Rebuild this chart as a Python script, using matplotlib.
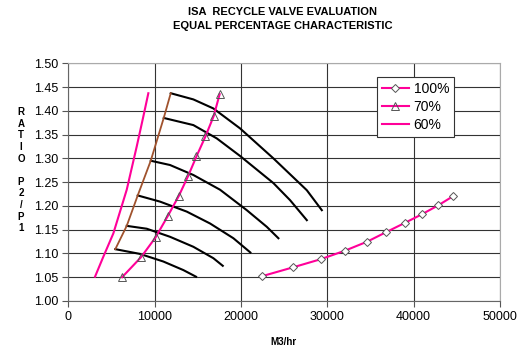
import matplotlib.pyplot as plt
import numpy as np

plt.rcParams['font.family'] = ['Liberation Sans', 'DejaVu Sans']

# valve curves (M3/hr, P2/P1)
flow_100 = [22410, 26070, 29260, 32065, 34640, 36830, 38950, 40910, 42830, 44520]
ratio_100 = [1.052, 1.071, 1.088, 1.106, 1.125, 1.145, 1.164, 1.182, 1.201, 1.220]

flow_70 = [6230, 8420, 10115, 11500, 12800, 13880, 14840, 15880, 16840, 17530]
ratio_70 = [1.050, 1.092, 1.134, 1.178, 1.221, 1.263, 1.304, 1.346, 1.389, 1.435]

flow_60 = [3094, 4055, 5214, 6767, 7925, 8690, 9270]
ratio_60 = [1.051, 1.093, 1.142, 1.234, 1.325, 1.388, 1.437]

# compressor speed lines (black)
speed_flows = [
    [5446, 8308, 11008, 13325, 14797],
    [6767, 9084, 11784, 14484, 16801, 17890],
    [8041, 10625, 13719, 16419, 19119, 21088],
    [9548, 11784, 14484, 17577, 20671, 22989, 24333],
    [11054, 14484, 17195, 19895, 23753, 25688, 27623],
    [11865, 14484, 16801, 19895, 23753, 27623, 29361],
]
speed_ratios = [
    [1.109, 1.099, 1.083, 1.065, 1.051],
    [1.158, 1.152, 1.135, 1.114, 1.090, 1.074],
    [1.222, 1.209, 1.188, 1.163, 1.132, 1.102],
    [1.295, 1.286, 1.265, 1.234, 1.191, 1.156, 1.132],
    [1.385, 1.370, 1.342, 1.305, 1.248, 1.212, 1.170],
    [1.437, 1.424, 1.405, 1.363, 1.300, 1.233, 1.191],
]

# surge line (brown) joins the start of each speed line
surge_flow = [f[0] for f in speed_flows]
surge_ratio = [r[0] for r in speed_ratios]

pink = '#FF0099'

fig = plt.figure(figsize=(5.27, 3.51), dpi=100)
ax = fig.add_axes([0.1296, 0.1425, 0.8192, 0.6772])

for fl, rt in zip(speed_flows, speed_ratios):
    ax.plot(fl, rt, color='black', lw=1.5, zorder=3)
ax.plot(surge_flow, surge_ratio, color='#A0522D', lw=1.3, zorder=3)

ax.plot(flow_100, ratio_100, color=pink, lw=1.5, marker='D', ms=4.5,
        mfc='white', mec='#555555', mew=0.7, label='100%', zorder=4)
ax.plot(flow_70, ratio_70, color=pink, lw=1.5, marker='^', ms=6,
        mfc='none', mec='#555555', mew=0.7, label='70%', zorder=4)
ax.plot(flow_60, ratio_60, color=pink, lw=1.5, label='60%', zorder=4)

ax.set_xlim(0, 50000)
ax.set_ylim(1.0, 1.5)
ax.set_xticks(np.arange(0, 50001, 10000))
ax.set_yticks(np.arange(1.0, 1.501, 0.05))
ax.set_yticklabels([f'{v:.2f}' for v in np.arange(1.0, 1.501, 0.05)])
ax.grid(True, color='#333333', lw=0.8)
ax.set_axisbelow(True)
ax.tick_params(labelsize=9, length=4, width=0.8, color='#555555', pad=3)

for s in ('top', 'right'):
    ax.spines[s].set_color('#aaaaaa')
for s in ('left', 'bottom'):
    ax.spines[s].set_color('#666666')

leg = ax.legend(loc='upper left', bbox_to_anchor=(0.716, 0.942), borderaxespad=0,
                fontsize=10, frameon=True, fancybox=False, handlelength=1.9,
                borderpad=0.35, labelspacing=0.3, handletextpad=0.35, framealpha=1)
leg.get_frame().set_edgecolor('#333333')
leg.get_frame().set_linewidth(0.8)

fig.text(0.537, 0.966, 'ISA  RECYCLE VALVE EVALUATION', ha='center', va='center',
         fontsize=8, fontweight='bold')
fig.text(0.537, 0.926, 'EQUAL PERCENTAGE CHARACTERISTIC', ha='center', va='center',
         fontsize=8, fontweight='bold')
fig.text(0.537, 0.026, 'M3/hr', ha='center', va='center', fontsize=7, fontweight='bold')
fig.text(0.04, 0.515, 'R\nA\nT\nI\nO\n\nP\n2\n/\nP\n1', ha='center', va='center',
         fontsize=7, fontweight='bold', linespacing=1.2, multialignment='center')

plt.savefig('out.png', dpi=100)
